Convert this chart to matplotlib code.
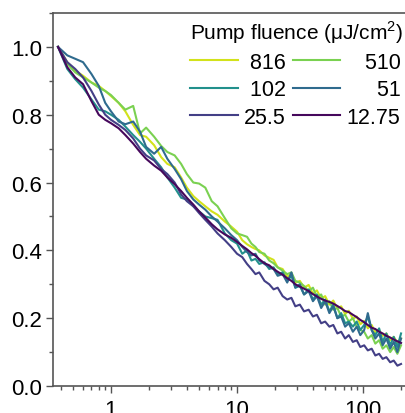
import numpy as np
import matplotlib
matplotlib.use("Agg")
import matplotlib.pyplot as plt
from matplotlib.ticker import FixedLocator, NullFormatter, FuncFormatter, MultipleLocator

plt.rcParams['font.family'] = ['Liberation Sans', 'DejaVu Sans']
plt.rcParams['mathtext.fontset'] = 'custom'
plt.rcParams['mathtext.rm'] = 'Liberation Sans'

# delay time (ps), shared by all traces
t = [0.38, 0.45, 0.52, 0.6, 0.7, 0.8, 0.9, 1.0, 1.15, 1.3, 1.5, 1.7, 1.9, 2.2, 2.5, 2.8,
     3.2, 3.6, 4.0, 4.5, 5.0, 5.6, 6.3, 7.0, 8.0, 9.0, 10, 11, 12, 13, 14, 15, 16.5, 18,
     19.5, 21, 23, 25, 27, 29, 31.5, 34, 37, 40, 43, 46.5, 50, 54, 58, 62.5, 67, 72, 77,
     83, 89, 95, 102, 109, 117, 125, 134, 143, 153, 164, 175, 187, 200]

fluence_labels = ['816', '510', '102', '51', '25.5', '12.75']
colors = ['#d2e21b', '#7ad151', '#22908c', '#2f6b8e', '#433f86', '#46085c']

y_816 = [1.0, 0.955, 0.93, 0.915, 0.895, 0.885, 0.87, 0.855, 0.835, 0.81, 0.77, 0.74,
         0.735, 0.71, 0.675, 0.655, 0.645, 0.615, 0.585, 0.56, 0.545, 0.53, 0.515, 0.505,
         0.485, 0.47, 0.455, 0.43, 0.418, 0.41, 0.404, 0.40, 0.385, 0.378, 0.372, 0.35,
         0.345, 0.322, 0.33, 0.305, 0.31, 0.29, 0.298, 0.272, 0.282, 0.258, 0.265, 0.24,
         0.252, 0.228, 0.235, 0.212, 0.222, 0.198, 0.205, 0.182, 0.192, 0.17, 0.18, 0.158,
         0.165, 0.148, 0.155, 0.135, 0.145, 0.128, 0.14]
y_510 = [1.0, 0.95, 0.925, 0.91, 0.895, 0.88, 0.87, 0.858, 0.835, 0.815, 0.826, 0.745,
         0.762, 0.735, 0.708, 0.69, 0.68, 0.655, 0.625, 0.60, 0.597, 0.585, 0.545, 0.53,
         0.495, 0.465, 0.45, 0.445, 0.44, 0.42, 0.41, 0.395, 0.39, 0.37, 0.362, 0.35,
         0.34, 0.33, 0.335, 0.31, 0.305, 0.295, 0.28, 0.29, 0.262, 0.27, 0.24, 0.25,
         0.225, 0.23, 0.205, 0.21, 0.19, 0.2, 0.175, 0.165, 0.16, 0.14, 0.15, 0.125,
         0.135, 0.11, 0.12, 0.1, 0.115, 0.095, 0.12]
y_102 = [1.0, 0.935, 0.905, 0.88, 0.845, 0.815, 0.81, 0.80, 0.785, 0.765, 0.74, 0.72,
         0.70, 0.67, 0.645, 0.615, 0.585, 0.555, 0.55, 0.53, 0.515, 0.50, 0.495, 0.49,
         0.45, 0.43, 0.42, 0.39, 0.40, 0.37, 0.375, 0.36, 0.365, 0.345, 0.35, 0.33,
         0.335, 0.31, 0.325, 0.29, 0.295, 0.27, 0.285, 0.255, 0.27, 0.24, 0.255, 0.22,
         0.24, 0.2, 0.215, 0.185, 0.19, 0.175, 0.19, 0.165, 0.18, 0.205, 0.165, 0.15,
         0.17, 0.13, 0.155, 0.12, 0.145, 0.115, 0.155]
y_51 = [1.0, 0.975, 0.965, 0.955, 0.92, 0.885, 0.835, 0.81, 0.78, 0.772, 0.78, 0.75,
        0.705, 0.685, 0.705, 0.67, 0.64, 0.61, 0.575, 0.55, 0.535, 0.52, 0.5, 0.485,
        0.465, 0.445, 0.43, 0.41, 0.395, 0.385, 0.39, 0.37, 0.36, 0.35, 0.345, 0.325,
        0.33, 0.305, 0.335, 0.29, 0.30, 0.27, 0.28, 0.25, 0.265, 0.23, 0.25, 0.215,
        0.235, 0.2, 0.205, 0.175, 0.185, 0.16, 0.175, 0.15, 0.165, 0.215, 0.165, 0.14,
        0.155, 0.12, 0.14, 0.11, 0.13, 0.1, 0.14]
y_25p5 = [1.0, 0.955, 0.935, 0.91, 0.87, 0.83, 0.8, 0.785, 0.77, 0.755, 0.73, 0.70,
          0.68, 0.665, 0.64, 0.625, 0.60, 0.565, 0.545, 0.53, 0.51, 0.49, 0.47, 0.45,
          0.43, 0.41, 0.39, 0.38, 0.36, 0.345, 0.33, 0.335, 0.31, 0.30, 0.285, 0.29,
          0.265, 0.255, 0.26, 0.235, 0.24, 0.22, 0.225, 0.205, 0.21, 0.185, 0.19, 0.175,
          0.18, 0.155, 0.16, 0.14, 0.15, 0.13, 0.135, 0.115, 0.12, 0.105, 0.11, 0.09,
          0.095, 0.08, 0.085, 0.07, 0.075, 0.06, 0.065]
y_12p75 = [1.0, 0.94, 0.91, 0.89, 0.84, 0.80, 0.785, 0.775, 0.76, 0.74, 0.715, 0.69,
           0.67, 0.65, 0.635, 0.615, 0.595, 0.575, 0.555, 0.535, 0.515, 0.497, 0.477,
           0.462, 0.447, 0.437, 0.425, 0.413, 0.403, 0.392, 0.384, 0.374, 0.362, 0.356,
           0.345, 0.337, 0.328, 0.318, 0.31, 0.30, 0.293, 0.287, 0.28, 0.271, 0.264,
           0.257, 0.252, 0.248, 0.243, 0.236, 0.229, 0.221, 0.218, 0.21, 0.203, 0.195,
           0.188, 0.18, 0.172, 0.168, 0.16, 0.155, 0.148, 0.143, 0.137, 0.132, 0.127]

series = [y_816, y_510, y_102, y_51, y_25p5, y_12p75]

fig = plt.figure(figsize=(4.05, 4.14), dpi=100)
ax = fig.add_axes([0.131, 0.0652, 0.869, 0.901])

# pad labels so they line up on the right like the original
pad = {'816': '\u2008816', '510': '\u2007\u2008510', '102': '\u2008102',
       '51': '\u2007\u2007\u200851', '25.5': '25.5', '12.75': '12.75'}
lines = {}
for y, c, lab in zip(series, colors, fluence_labels):
    lines[lab], = ax.plot(t, y, color=c, lw=1.5, label=pad[lab])

ax.set_xscale('log')
ax.set_xlim(0.347, 215)
ax.set_ylim(0.0, 1.1)

ax.xaxis.set_major_locator(FixedLocator([1, 10, 100]))
ax.xaxis.set_major_formatter(FuncFormatter(lambda v, p: '%g' % v))
minors = [m * 10.0 ** e for e in range(-1, 3) for m in range(2, 10)]
ax.xaxis.set_minor_locator(FixedLocator(minors))
ax.xaxis.set_minor_formatter(NullFormatter())
ax.yaxis.set_major_locator(MultipleLocator(0.2))
ax.yaxis.set_minor_locator(MultipleLocator(0.1))
ax.yaxis.set_major_formatter(FuncFormatter(lambda v, p: '%.1f' % v))

for side in ['left', 'bottom', 'top']:
    ax.spines[side].set_color('#555555')
    ax.spines[side].set_linewidth(1.2)
ax.spines['right'].set_visible(False)
ax.tick_params(which='major', direction='out', length=5, width=1.0, color='#555555',
               labelsize=16, pad=3)
ax.tick_params(which='minor', direction='out', length=3, width=1.0, color='#555555')
ax.tick_params(axis='x', which='major', pad=4)

# legend fills column by column, so order handles to read row-wise
order = ['816', '102', '25.5', '510', '51', '12.75']
leg = ax.legend([lines[k] for k in order], [pad[k] for k in order],
                ncol=2, frameon=False, fontsize=15.5,
                title='Pump fluence (μJ/cm$^2$)', title_fontsize=15,
                loc='upper right', bbox_to_anchor=(1.008, 0.996),
                handlelength=2.2, handletextpad=0.3, columnspacing=0.3,
                labelspacing=0.3, borderaxespad=0.0, borderpad=0.2)
leg._legend_box.align = 'left'

fig.savefig('out.png', dpi=100)
